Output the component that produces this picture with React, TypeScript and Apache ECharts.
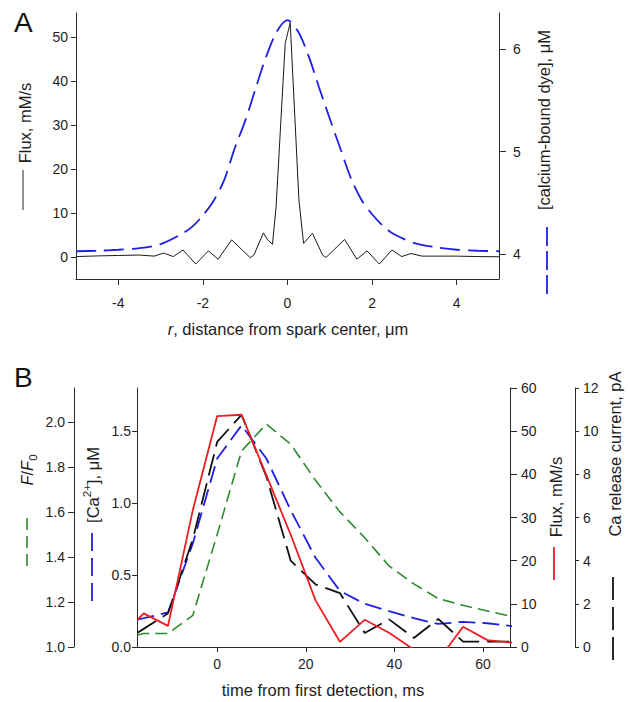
import React, { useEffect, useRef } from "react";
import * as echarts from "echarts";

// ---------- Panel A data ----------
const rFlux = [-5, -4.5, -4, -3.5, -3.15, -2.93, -2.7, -2.47, -2.17, -1.87, -1.64, -1.32, -0.88, -0.79, -0.57, -0.47, -0.355, -0.27, -0.054, 0.064, 0.27, 0.38, 0.59, 0.83, 0.91, 1.35, 1.64, 1.88, 2.17, 2.47, 2.7, 2.92, 3.18, 4, 4.5, 5];
const fluxA = [0.1, 0.25, 0.35, 0.45, 0.2, 0.9, 0.1, 1.6, -1.6, 1.4, -0.5, 3.9, -0.15, 0.5, 5.5, 3.9, 2.9, 11.4, 48.6, 53.3, 13.0, 3.1, 5.4, 0.45, -0.1, 4.0, -0.5, 1.4, -1.6, 1.6, 0.1, 0.8, 0.2, 0.2, 0.1, 0.05];

const rDye = [-5, -4.5, -4, -3.5, -3, -2.5, -2.25, -2, -1.75, -1.5, -1.25, -1, -0.75, -0.5, -0.25, 0, 0.25, 0.5, 0.75, 1, 1.25, 1.5, 1.75, 2, 2.25, 2.5, 3, 3.5, 4, 4.5, 5];
const dyeA = [4.03, 4.035, 4.045, 4.06, 4.1, 4.2, 4.27, 4.38, 4.52, 4.72, 5.03, 5.3, 5.62, 5.93, 6.17, 6.28, 6.17, 5.93, 5.62, 5.32, 5.03, 4.74, 4.53, 4.39, 4.28, 4.2, 4.11, 4.07, 4.045, 4.035, 4.03];

const xTicksA = [-4, -2, 0, 2, 4];
const fluxTicksA = [0, 10, 20, 30, 40, 50];
const dyeTicks = [4, 5, 6];

// ---------- Panel B data ----------
const timeB = [-18, -16.6, -11.1, -5.5, 0, 5.5, 11.1, 16.6, 22.2, 27.7, 33.3, 38.8, 44.4, 49.9, 55.5, 61, 66.6];
const fOverF0 = [1.053, 1.06, 1.06, 1.14, 1.5, 1.87, 1.99, 1.9, 1.74, 1.6, 1.485, 1.36, 1.28, 1.215, 1.185, 1.16, 1.135];
const caConc = [0.19, 0.2, 0.24, 0.72, 1.31, 1.54, 1.31, 0.95, 0.62, 0.39, 0.3, 0.25, 0.2, 0.16, 0.175, 0.165, 0.145];
const fluxB = [6.3, 7.8, 4.9, 31.7, 53.5, 53.8, 39.8, 26, 10.8, 1.2, 6.3, 3.3, -0.6, -3.1, 4.7, 1.6, 1.0];
const releaseCurrent = [0.66, 0.84, 1.56, 5.0, 9.5, 10.76, 7.9, 4.0, 2.9, 2.5, 0.65, 1.28, 0.42, 1.3, 0.25, 0.25, 0.25];

const xTicksB = [0, 20, 40, 60];
const fTicks = [1.0, 1.2, 1.4, 1.6, 1.8, 2.0];
const caTicks = [0, 0.5, 1.0, 1.5];
const fluxTicksB = [0, 10, 20, 30, 40, 50, 60];
const currentTicks = [0, 2, 4, 6, 8, 10, 12];

const FONT = '"Liberation Sans", Arial, Helvetica, sans-serif';
const AXC = "#2a2a2a";
const TXT = "#1e1e1e";
const BLUE = "#1f1fe3";
const GREEN = "#2e8a2e";
const RED = "#ee1d23";
const TITLE_FS = 16.5;

function axis(extra: any, ticks: number[], tickLen: number, margin: number, fmt?: (v: number) => string) {
  return {
    type: "value",
    axisLine: { show: true, onZero: false, lineStyle: { color: AXC, width: 1 } },
    axisTick: { show: true, inside: false, length: tickLen, customValues: ticks, lineStyle: { color: AXC, width: 1 } },
    axisLabel: {
      show: true,
      customValues: ticks,
      margin,
      fontSize: 14,
      color: TXT,
      fontFamily: FONT,
      formatter: fmt ? (v: number) => fmt(v) : (v: number) => String(v),
    },
    splitLine: { show: false },
    minorTick: { show: false },
    ...extra,
  };
}

function vText(x: number, y: number, text: string, rich?: any) {
  return {
    type: "text",
    x,
    y,
    rotation: Math.PI / 2,
    style: {
      text,
      fontSize: TITLE_FS,
      fontFamily: FONT,
      fill: TXT,
      align: "center",
      verticalAlign: "middle",
      rich,
    },
  };
}

function vLine(x: number, y1: number, y2: number, color: string, width: number, dash?: number[]) {
  return {
    type: "line",
    shape: { x1: x, y1, x2: x, y2 },
    style: { stroke: color, lineWidth: width, lineDash: dash || null },
  };
}

const richBase = {
  n: { fontSize: TITLE_FS, fontFamily: FONT, fill: TXT, lineHeight: 24 },
  i: { fontSize: TITLE_FS, fontFamily: FONT, fill: TXT, fontStyle: "italic", lineHeight: 24 },
  sub: { fontSize: 11.5, fontFamily: FONT, fill: TXT, lineHeight: 12, verticalAlign: "bottom" },
  sup: { fontSize: 11.5, fontFamily: FONT, fill: TXT, lineHeight: 12, verticalAlign: "top" },
};

export default function App() {
  const ref = useRef<HTMLDivElement>(null);
  useEffect(() => {
    if (!ref.current) return;
    const chart = echarts.init(ref.current, null, { renderer: "svg" });
    const option: any = {
      animation: false,
      backgroundColor: "#ffffff",
      textStyle: { fontFamily: FONT },
      grid: [
        { left: 76, top: 13, width: 423, height: 266, containLabel: false, outerBoundsMode: "none" },
        { left: 137, top: 388, width: 373, height: 259, containLabel: false, outerBoundsMode: "none" },
      ],
      xAxis: [
        axis({ gridIndex: 0, min: -5, max: 5 }, xTicksA, 6, 17),
        axis({ gridIndex: 1, min: -18.1, max: 66.1 }, xTicksB, 5, 10),
      ],
      yAxis: [
        axis({ gridIndex: 0, position: "left", min: -5, max: 55.5 }, fluxTicksA, 5, 8),
        axis({ gridIndex: 0, position: "right", min: 3.76, max: 6.35 }, dyeTicks, 7, 14),
        axis({ gridIndex: 1, position: "left", offset: 63, min: 1, max: 2.15 }, fTicks, 6, 9, (v) => v.toFixed(1)),
        axis({ gridIndex: 1, position: "left", offset: 0, min: 0, max: 1.8 }, caTicks, 5, 6, (v) => v.toFixed(1)),
        axis({ gridIndex: 1, position: "right", offset: 0, min: 0, max: 60 }, fluxTicksB, 7, 11),
        axis({ gridIndex: 1, position: "right", offset: 65, min: 0, max: 12 }, currentTicks, 4, 8),
      ],
      series: [
        {
          name: "Flux A",
          type: "line",
          xAxisIndex: 0,
          yAxisIndex: 0,
          data: rFlux.map((r, i) => [r, fluxA[i]]),
          symbol: "none",
          lineStyle: { color: "#1a1a1a", width: 1 },
          clip: true,
          z: 2,
        },
        {
          name: "Dye A",
          type: "line",
          xAxisIndex: 0,
          yAxisIndex: 1,
          data: rDye.map((r, i) => [r, dyeA[i]]),
          symbol: "none",
          smooth: 0.3,
          lineStyle: { color: BLUE, width: 1.8, type: [20, 8] },
          clip: true,
          z: 3,
        },
        {
          name: "F/F0",
          type: "line",
          xAxisIndex: 1,
          yAxisIndex: 2,
          data: timeB.map((t, i) => [t, fOverF0[i]]),
          symbol: "none",
          lineStyle: { color: GREEN, width: 1.6, type: [12, 6] },
          clip: true,
        },
        {
          name: "Ca",
          type: "line",
          xAxisIndex: 1,
          yAxisIndex: 3,
          data: timeB.map((t, i) => [t, caConc[i]]),
          symbol: "none",
          lineStyle: { color: BLUE, width: 1.8, type: [17, 7] },
          clip: true,
        },
        {
          name: "Current",
          type: "line",
          xAxisIndex: 1,
          yAxisIndex: 5,
          data: timeB.map((t, i) => [t, releaseCurrent[i]]),
          symbol: "none",
          lineStyle: { color: "#111111", width: 1.8, type: [22, 8] },
          clip: true,
        },
        {
          name: "Flux B",
          type: "line",
          xAxisIndex: 1,
          yAxisIndex: 4,
          data: timeB.map((t, i) => [t, fluxB[i]]),
          symbol: "none",
          lineStyle: { color: RED, width: 1.8 },
          clip: true,
        },
      ],
      graphic: [
        { type: "text", x: 14, y: 22, style: { text: "A", fontSize: 28, fontFamily: FONT, fill: "#111", align: "left", verticalAlign: "middle" } },
        { type: "text", x: 14, y: 377, style: { text: "B", fontSize: 28, fontFamily: FONT, fill: "#111", align: "left", verticalAlign: "middle" } },
        // Panel A titles
        vText(25, 123, "Flux, mM/s"),
        vLine(23, 170, 210, "#222", 1),
        vText(544, 120, "[calcium-bound dye], μM"),
        vLine(547, 227, 295, BLUE, 1.8, [19, 5]),
        {
          type: "text",
          x: 288,
          y: 329,
          style: {
            text: "{i|r}{n|, distance from spark center, μm}",
            fontSize: TITLE_FS,
            fontFamily: FONT,
            fill: TXT,
            align: "center",
            verticalAlign: "middle",
            rich: richBase,
          },
        },
        // Panel B titles
        vText(27, 470, "{i|F}{n|/}{i|F}{sub|0}", richBase),
        vLine(27, 518, 568, GREEN, 1.6, [12, 6]),
        vText(93, 485, "{n|[Ca}{sup|2+}{n|], μM}", richBase),
        vLine(92, 533, 605, BLUE, 1.8, [18, 7]),
        vText(556, 497, "Flux, mM/s"),
        vLine(554, 547, 580, RED, 1.8),
        vText(615, 454, "Ca release current, pA"),
        vLine(613, 577, 667, "#111", 1.8, [23, 7]),
        {
          type: "text",
          x: 323,
          y: 690,
          style: { text: "time from first detection, ms", fontSize: TITLE_FS, fontFamily: FONT, fill: TXT, align: "center", verticalAlign: "middle" },
        },
      ],
    };
    chart.setOption(option);
    return () => chart.dispose();
  }, []);
  return (
    <div
      ref={ref}
      style={{ position: "fixed", left: 0, top: 0, width: 628, height: 702, background: "#fff" }}
    />
  );
}
